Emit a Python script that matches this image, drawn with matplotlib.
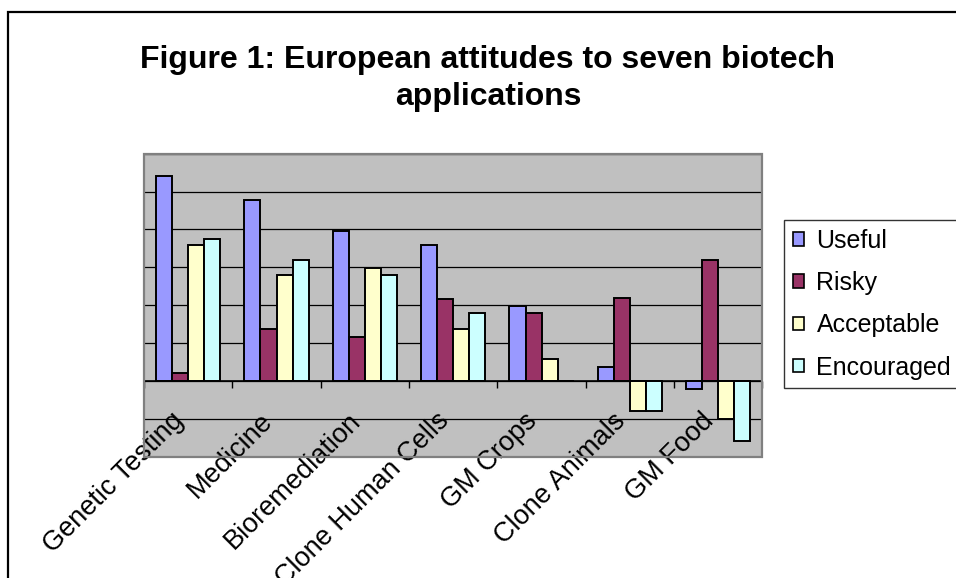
import matplotlib
matplotlib.use("Agg")
import matplotlib.pyplot as plt
from matplotlib.patches import Rectangle, Patch
from matplotlib.ticker import FixedLocator
from matplotlib.transforms import ScaledTranslation
import numpy as np

plt.rcParams['font.family'] = ['Liberation Sans', 'DejaVu Sans']

categories = ["Genetic Testing", "Medicine", "Bioremediation", "Clone Human Cells",
              "GM Crops", "Clone Animals", "GM Food"]
series_names = ["Useful", "Risky", "Acceptable", "Encouraged"]
useful = [5.41, 4.77, 3.97, 3.60, 1.97, 0.37, -0.21]
risky = [0.22, 1.37, 1.16, 2.17, 1.80, 2.18, 3.19]
acceptable = [3.60, 2.81, 2.98, 1.37, 0.59, -0.80, -1.00]
encouraged = [3.76, 3.19, 2.81, 1.80, 0.00, -0.80, -1.59]
colors = ["#9999FF", "#993366", "#FFFFCC", "#CCFFFF"]

W, H = 956, 578
fig = plt.figure(figsize=(W / 100, H / 100), dpi=100)
fig.patch.set_facecolor("white")

# outer chart frame
fig.add_artist(Rectangle((7.5 / W, -0.2), 1.2, 1 - 12 / H + 0.2,
                         transform=fig.transFigure, fill=False,
                         edgecolor="black", lw=1.6, clip_on=False))

ax = fig.add_axes([144 / W, 1 - 456.7 / H, (762.5 - 144) / W, (456.7 - 153.7) / H])
ax.set_facecolor("#C0C0C0")

x = np.arange(len(categories))
bw = 1 / 5.5
for k, (vals, c, name) in enumerate(zip([useful, risky, acceptable, encouraged],
                                        colors, series_names)):
    ax.bar(x + (k - 1.5) * bw, vals, width=bw, color=c, edgecolor="black",
           linewidth=1.4, label=name, zorder=3)

ax.set_xlim(-0.5, len(categories) - 0.5)
ax.set_ylim(-2, 6)
ax.set_yticks(np.arange(-2, 7, 1))
ax.set_yticklabels([])
ax.tick_params(axis="y", length=0)
ax.yaxis.grid(True, color="black", lw=0.9, zorder=1)
ax.set_axisbelow(True)

for s in ["left", "right", "top"]:
    ax.spines[s].set_visible(False)
ax.spines["bottom"].set_position(("data", 0))
ax.spines["bottom"].set_linewidth(1.2)
ax.spines["bottom"].set_zorder(4)

ax.set_xticks(x)
ax.set_xticklabels(categories, rotation=45, ha="right", va="center",
                   rotation_mode="anchor", fontsize=19.5)
ax.tick_params(axis="x", which="major", length=0, pad=26)
shift = ScaledTranslation(-8 / 100, 0, fig.dpi_scale_trans)
for lab in ax.get_xticklabels():
    lab.set_transform(lab.get_transform() + shift)
ax.xaxis.set_minor_locator(FixedLocator(np.arange(-0.5, len(categories), 1)))
ax.tick_params(axis="x", which="minor", length=5, width=1, direction="out")

# plot area border
ax.add_patch(Rectangle((0, 0), 1, 1, transform=ax.transAxes, fill=False,
                       edgecolor="#808080", lw=1.6, zorder=5, clip_on=False))

fig.text(488 / W, 1 - 45 / H,
         "Figure 1: European attitudes to seven biotech\napplications",
         ha="center", va="top", fontsize=23, fontweight="bold", linespacing=1.3)

handles = [Patch(facecolor=c, edgecolor="black", lw=1.2) for c in colors]
leg = fig.legend(handles, series_names, loc="upper left",
                 bbox_to_anchor=(784 / W, 1 - 220 / H), borderaxespad=0,
                 fontsize=18, frameon=True, fancybox=False, shadow=False,
                 handlelength=0.45, handleheight=0.45, handletextpad=0.5,
                 labelspacing=0.73, borderpad=0.35)
leg.get_frame().set_edgecolor("black")
leg.get_frame().set_linewidth(1.0)

fig.savefig("out.png", dpi=100)
